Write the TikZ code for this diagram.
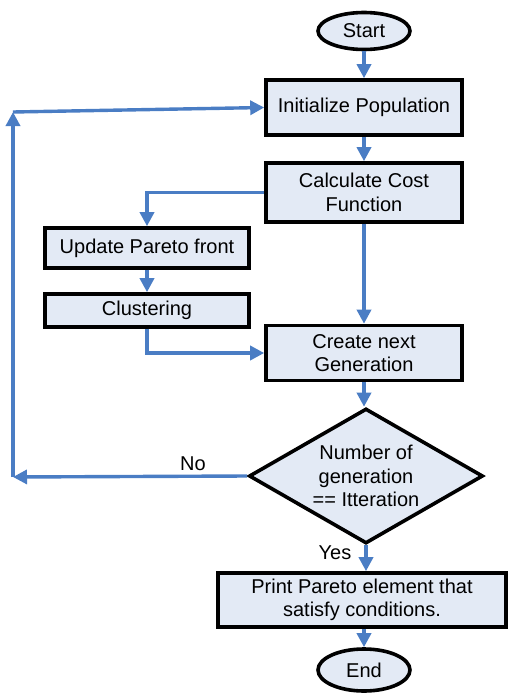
\documentclass[tikz,border=0pt]{standalone}
\usepackage{fontspec}
\setmainfont{Liberation Sans}
\usetikzlibrary{shapes.geometric,arrows.meta}
\definecolor{fillb}{HTML}{E3EAF5}
\definecolor{lineb}{HTML}{4A7DC4}
\begin{document}
\begin{tikzpicture}[x=1pt,y=-1pt,
 box/.style={draw=black,line width=3.6pt,fill=fillb,rectangle,inner sep=0pt,align=center,font=\fontsize{20}{23.5}\selectfont},
 term/.style={box,ellipse},
 decis/.style={box,diamond,aspect=1.73},
 conn/.style={draw=lineb,line width=3.4pt,-{Triangle[length=14pt,width=14pt]}},
 lbl/.style={font=\fontsize{20}{23.5}\selectfont}]
\useasboundingbox (0,0) rectangle (507,693);
\node[term,minimum width=92pt,minimum height=37pt] (start) at (364,31) {Start};
\node[box,minimum width=196pt,minimum height=55pt] (init) at (364,107.5) {Initialize Population};
\node[box,minimum width=196pt,minimum height=59pt] (calc) at (364,192.5) {Calculate Cost\\Function};
\node[box,minimum width=204pt,minimum height=40pt] (upd) at (147,248) {Update Pareto front};
\node[box,minimum width=204pt,minimum height=33pt] (clus) at (147,310.5) {Clustering};
\node[box,minimum width=196pt,minimum height=55pt] (gen) at (364,353) {Create next\\Generation};
\node[decis,minimum width=234pt,minimum height=135pt] (chk) at (366,476) {Number of\\generation\\== Itteration};
\node[box,minimum width=288pt,minimum height=54pt] (print) at (362,600) {Print Pareto element that\\satisfy conditions.};
\node[term,minimum width=92pt,minimum height=42pt] (end) at (364,670) {End};
\coordinate (cL) at (13,477);
\coordinate (cU) at (13,112);
\draw[conn] (start) -- (init);
\draw[conn] (init) -- (calc);
\draw[conn] (calc.west) -| (upd.north);
\draw[conn] (upd) -- (clus);
\draw[conn] (clus.south) |- (gen.west);
\draw[conn] (calc) -- (gen);
\draw[conn] (gen.south) -- (gen.south |- chk.north);
\draw[conn] (chk.west) -- (cL);
\draw[conn] (cL) -- (cU);
\draw[conn] (cU) -- (init.west);
\draw[conn] (chk.south) -- (chk.south |- print.north);
\draw[conn] (end.north |- print.south) -- (end.north);
\node[lbl] (no) at (193,464) {No};
\node[lbl] (yes) at (335,553) {Yes};
\end{tikzpicture}
\end{document}
